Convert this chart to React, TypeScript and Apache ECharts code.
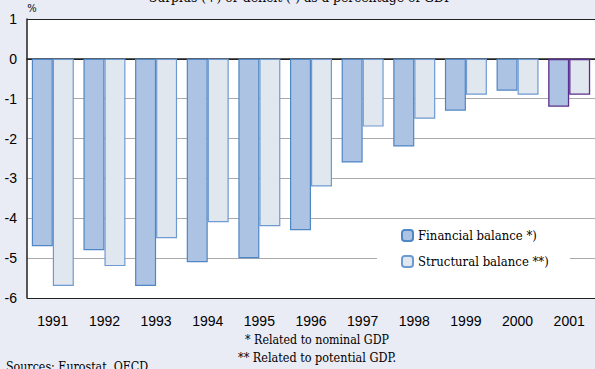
import React, { useEffect, useRef } from "react";
import * as echarts from "echarts";

const years = ["1991", "1992", "1993", "1994", "1995", "1996", "1997", "1998", "1999", "2000", "2001"];
const financialBalance = [-4.7, -4.8, -5.7, -5.1, -5.0, -4.3, -2.6, -2.2, -1.3, -0.8, -1.2];
const structuralBalance = [-5.7, -5.2, -4.5, -4.1, -4.2, -3.2, -1.7, -1.5, -0.9, -0.9, -0.9];
const seriesNames = ["Financial balance *)", "Structural balance **)"];
const titleText = "Surplus (+) or deficit (-) as a percentage of GDP";
const footnotes = ["* Related to nominal GDP", "** Related to potential GDP."];
const sourceText = "Sources: Eurostat, OECD";

const highlightYear = "2001";
const purple = "#5a2d8e";

export default function App() {
  const ref = useRef<HTMLDivElement>(null);
  useEffect(() => {
    if (!ref.current) return;
    const chart = echarts.init(ref.current, undefined, { renderer: "svg" });
    const mk = (vals: number[]) =>
      vals.map((v, i) =>
        years[i] === highlightYear
          ? { value: v, itemStyle: { borderColor: purple, borderWidth: 1.3 } }
          : { value: v }
      );
    const sans = "Liberation Sans";
    const serif = "DejaVu Serif Condensed";
    const txt = (x: number, y: number, text: string, size: number, align: string) => ({
      type: "text",
      x,
      y,
      style: {
        text,
        fontSize: size,
        fontFamily: serif,
        fill: "#000",
        align,
        verticalAlign: "middle",
      },
    });
    chart.setOption({
      animation: false,
      backgroundColor: "#e9ebf5",
      grid: {
        left: 27,
        top: 19,
        width: 571,
        height: 279,
        show: true,
        backgroundColor: "#ffffff",
        borderWidth: 0,
      },
      legend: {
        orient: "vertical",
        left: 396,
        top: 224,
        itemWidth: 11,
        itemHeight: 11,
        itemGap: 13,
        z: 10,
        textStyle: { fontFamily: serif, fontSize: 13, color: "#000" },
        data: seriesNames,
      },
      xAxis: {
        type: "category",
        data: years,
        axisLine: { show: true, onZero: true, lineStyle: { color: "#222", width: 1.5 } },
        axisTick: { show: false },
        axisLabel: {
          fontFamily: sans,
          fontSize: 14,
          color: "#000",
          margin: 16,
          interval: 0,
        },
        position: "bottom",
      },
      yAxis: {
        type: "value",
        min: -6,
        max: 1,
        interval: 1,
        axisLine: { show: true, lineStyle: { color: "#222", width: 1.5 } },
        axisTick: { show: false },
        axisLabel: { fontFamily: sans, fontSize: 14, color: "#000", margin: 10 },
        splitLine: {
          show: true,
          lineStyle: {
            color: ["#222", "#aaaaaa", "#aaaaaa", "#aaaaaa", "#aaaaaa", "#aaaaaa", "#222", "#222"],
            width: 1,
          },
        },
      },
      graphic: [
        {
          type: "rect",
          z: 1,
          shape: { x: 377, y: 219.5, width: 193, height: 78 },
          style: { fill: "#ffffff" },
        },
        txt(300.5, -3, titleText, 13.8, "center"),
        txt(32, 8, "%", 11, "center"),
        txt(317, 340, footnotes[0], 12.3, "center"),
        txt(317, 357, footnotes[1], 12.5, "center"),
        txt(6, 367, sourceText, 12.3, "left"),
      ],
      series: [
        {
          name: seriesNames[0],
          type: "bar",
          barWidth: 21,
          barGap: "0%",
          z: 3,
          itemStyle: { color: "#adc3e3", borderColor: "#4f86c6", borderWidth: 1.2 },
          data: mk(financialBalance),
        },
        {
          name: seriesNames[1],
          type: "bar",
          barWidth: 21,
          barGap: "0%",
          z: 3,
          itemStyle: { color: "#e1e7ef", borderColor: "#6e9ad2", borderWidth: 1.2 },
          data: mk(structuralBalance),
        },
      ],
    });
    return () => chart.dispose();
  }, []);
  return (
    <div
      ref={ref}
      style={{ position: "fixed", left: 0, top: 0, width: 595, height: 369 }}
    />
  );
}
